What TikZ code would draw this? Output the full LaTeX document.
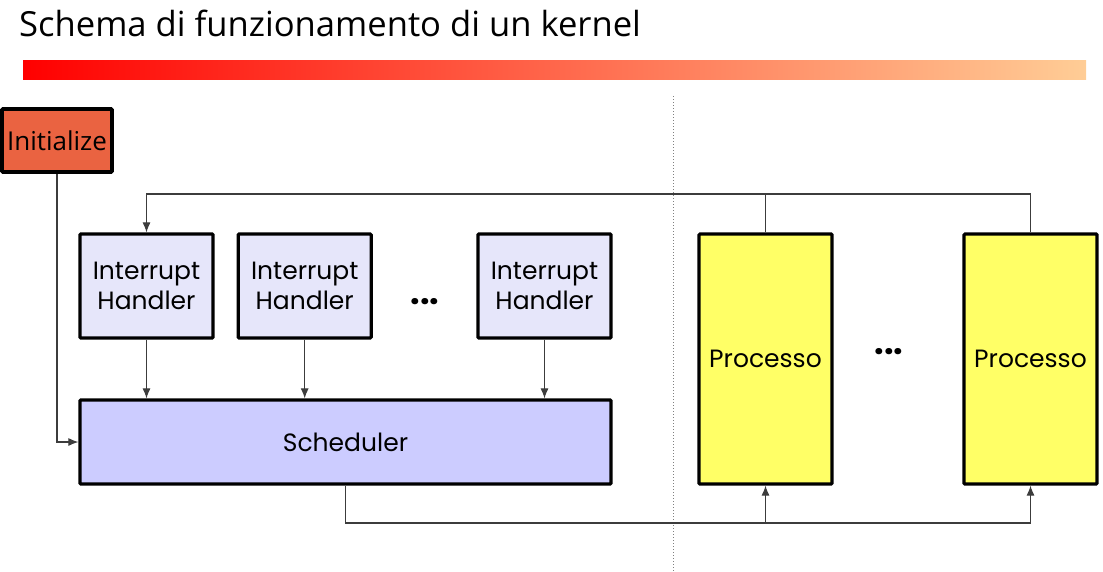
\documentclass[tikz,border=0pt]{standalone}
\usepackage{fontspec}
\setmainfont{Poppins}
\newfontfamily\titlefont{Open Sans}
\usepackage{tikz}
\usetikzlibrary{arrows.meta, positioning}

\definecolor{initcol}{RGB}{234,99,65}
\definecolor{ihcol}{RGB}{230,230,250}
\definecolor{schedcol}{RGB}{204,204,255}
\definecolor{proccol}{RGB}{255,255,102}
\definecolor{barend}{RGB}{255,205,150}
\definecolor{linecol}{RGB}{60,60,60}

\begin{document}
\begin{tikzpicture}[x=1pt,y=-1pt,>={Latex[length=10pt,width=8pt]},
  box/.style={rectangle,draw,line width=3.2pt,rounded corners=1pt,inner sep=0pt,
  font=\fontsize{25}{30}\selectfont,align=center},
  ih node/.style={box,fill=ihcol,minimum width=133pt,minimum height=104pt},
  proc node/.style={box,fill=proccol,minimum width=133pt,minimum height=250pt},
  dots/.style={font=\bfseries\fontsize{34}{34}\selectfont},
  conn/.style={->,linecol,line width=1.1pt}]
  \useasboundingbox (0,0) rectangle (1103,571);

  % title and bar
  \node[anchor=base west,inner sep=0pt,font=\titlefont\fontsize{34.6}{40}\selectfont] (title) at (19,36) {Schema di funzionamento di un kernel};
  \shade[left color=red,right color=barend] (23,60) rectangle (1086,79);
  \draw[gray,dotted,line width=1pt] (673,96) -- (673,571);

  \node[box,fill=initcol,line width=3.8pt,minimum width=110pt,minimum height=63pt,font=\titlefont\fontsize{26}{30}\selectfont] (init) at (57,140.5) {Initialize};

  \node[ih node] (IH1) at (146.5,286) {Interrupt\\Handler};
  \node[ih node] (IH2) [right=22 of IH1] {Interrupt\\Handler};
  \node[ih node] (IH3) at (544.5,286) {Interrupt\\Handler};
  \node[dots] (dotsA) at (425,302) {...};

  \node[box,fill=schedcol,minimum width=531pt,minimum height=84pt] (sched) at (345.5,442) {Scheduler};

  \node[proc node] (P1) at (765.5,359) {Processo};
  \node[proc node] (P2) at (1030.5,359) {Processo};
  \node[dots] (dotsB) at (889,352) {...};

  \coordinate (top) at (0,194);
  \coordinate (bot) at (0,523);

  % connectors
  \draw[conn] (init.south) |- (sched.west);
  \draw[conn] (IH1) -- (IH1 |- sched.north);
  \draw[conn] (IH2) -- (IH2 |- sched.north);
  \draw[conn] (IH3) -- (IH3 |- sched.north);
  \draw[conn] (P2.north) -- (P2.north |- top) -- (IH1.north |- top) -- (IH1.north);
  \draw[linecol,line width=1.1pt] (P1.north) -- (P1.north |- top);
  \draw[conn] (sched.south) -- (sched.south |- bot) -- (P2.south |- bot) -- (P2.south);
  \draw[conn] (P1.south |- bot) -- (P1.south);
\end{tikzpicture}
\end{document}
